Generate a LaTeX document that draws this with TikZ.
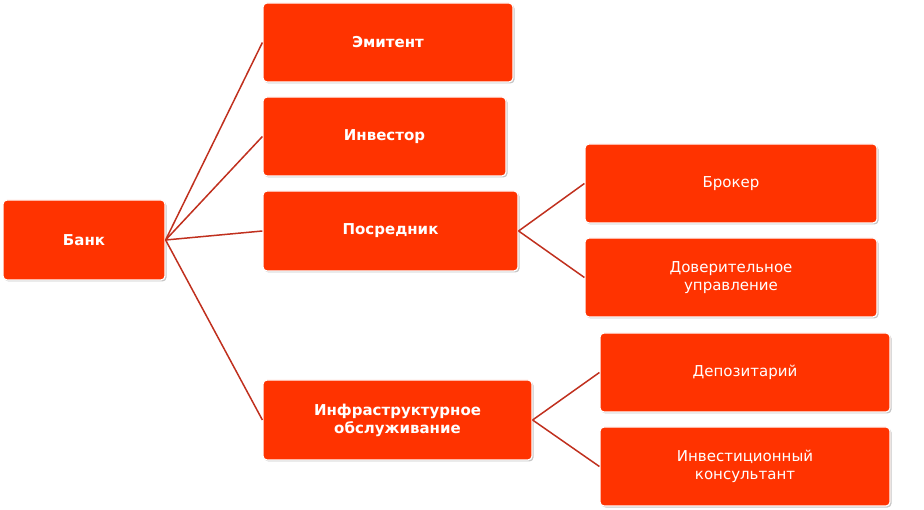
\documentclass[tikz,border=0pt]{standalone}
\usepackage{fontspec}
\setmainfont{DejaVu Sans}
\usetikzlibrary{shadows}
\definecolor{boxfill}{HTML}{FF3300}
\definecolor{linec}{HTML}{C0301E}
\tikzset{
  box/.style={draw=white, line width=1.2pt, fill=boxfill, rounded corners=4pt, text=white,
    align=center, inner sep=0pt, font=\fontsize{15}{18}\selectfont,
    drop shadow={shadow xshift=1.5pt, shadow yshift=-1.5pt, fill=black!45, opacity=0.5}},
  main/.style={box, font=\fontsize{15}{18}\selectfont\bfseries},
  conn/.style={draw=linec, line width=1.5pt}
}
\begin{document}
\begin{tikzpicture}[x=1pt,y=-1pt]
\useasboundingbox (0,0) rectangle (924,510);
\newcommand{\bx}[7]{\node[#1, minimum width=#4-#3, minimum height=#6-#5] (#2) at ({(#3+#4)/2},{(#5+#6)/2}) {#7};}
\bx{main}{bank}{3}{165}{200}{280}{Банк}
\bx{main}{emit}{263}{513}{3}{82}{Эмитент}
\bx{main}{inv}{263}{506}{97}{176}{Инвестор}
\bx{main}{pos}{263}{518}{191}{271}{Посредник}
\bx{main}{infra}{263}{532}{380}{460}{Инфраструктурное\\обслуживание}
\bx{box}{brok}{585}{877}{144}{223}{Брокер}
\bx{box}{dov}{585}{877}{238}{317}{Доверительное\\управление}
\bx{box}{dep}{600}{890}{333}{412}{Депозитарий}
\bx{box}{kons}{600}{890}{427}{506}{Инвестиционный\\консультант}
\begin{scope}[on background layer/.try]
\end{scope}
\foreach \t in {emit,inv,pos,infra} \draw[conn] (bank.east) -- (\t.west);
\foreach \t in {brok,dov} \draw[conn] (pos.east) -- (\t.west);
\foreach \t in {dep,kons} \draw[conn] (infra.east) -- (\t.west);
\end{tikzpicture}
\end{document}
